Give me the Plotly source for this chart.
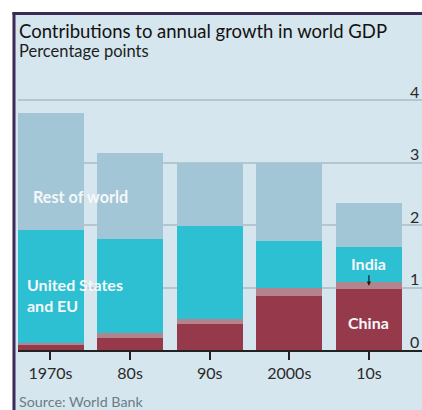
import plotly.graph_objects as go

# ---- data ----
decades = ["1970s", "80s", "90s", "2000s", "10s"]
china = [0.08, 0.20, 0.42, 0.86, 0.97]
india = [0.03, 0.07, 0.08, 0.13, 0.12]
us_eu = [1.81, 1.51, 1.49, 0.75, 0.56]
rest_of_world = [1.87, 1.38, 1.00, 1.25, 0.71]
y_ticks = [0, 1, 2, 3, 4]

# ---- layout geometry (pixels) ----
W, H = 422, 410
ML, MR, MT, MB = 18, 0, 99, 60
PW = W - ML - MR
PH = H - MT - MB
Y0 = H - MB


def px(x):
    return (x - ML) / PW


def py(y):
    return (Y0 - y) / PH


FONT = "Lato"
BG = "#d5e6ee"
C_CHINA = "#963a4b"
C_INDIA = "#b2848d"
C_USEU = "#2dbfd2"
C_REST = "#a3c6d7"

fig = go.Figure()
for name, vals, col in [
    ("China", china, C_CHINA),
    ("India", india, C_INDIA),
    ("United States and EU", us_eu, C_USEU),
    ("Rest of world", rest_of_world, C_REST),
]:
    fig.add_trace(go.Bar(x=decades, y=vals, name=name, marker=dict(color=col, line=dict(width=0)),
                         hoverinfo="skip"))

shapes = [
    # white outside frame
    dict(type="rect", xref="paper", yref="paper", x0=px(-5), x1=px(12.5), y0=py(-5), y1=py(H + 5),
         fillcolor="white", line=dict(width=0), layer="above"),
    dict(type="rect", xref="paper", yref="paper", x0=px(-5), x1=px(W + 5), y0=py(-5), y1=py(12),
         fillcolor="white", line=dict(width=0), layer="above"),
    # purple frame lines
    dict(type="rect", xref="paper", yref="paper", x0=px(12.5), x1=px(15.5), y0=py(12), y1=py(H + 5),
         fillcolor="#3d2b57", line=dict(width=0), layer="above"),
    dict(type="rect", xref="paper", yref="paper", x0=px(12.5), x1=px(W + 5), y0=py(12), y1=py(15),
         fillcolor="#3d2b57", line=dict(width=0), layer="above"),
]

annotations = [
    dict(text="Contributions to annual growth in world GDP", xref="paper", yref="paper",
         x=px(17), y=py(31), xanchor="left", yanchor="middle", showarrow=False,
         font=dict(family=FONT, size=18.5, color="#121212")),
    dict(text="Percentage points", xref="paper", yref="paper",
         x=px(17), y=py(51), xanchor="left", yanchor="middle", showarrow=False,
         font=dict(family=FONT, size=16.5, color="#1e1e1e")),
    dict(text="Source: World Bank", xref="paper", yref="paper",
         x=px(17), y=py(401), xanchor="left", yanchor="middle", showarrow=False,
         font=dict(family=FONT, size=14.3, color="#6d7c86")),
    dict(text="<b>Rest of world</b>", xref="paper", yref="paper",
         x=px(31), y=py(196), xanchor="left", yanchor="middle", showarrow=False,
         font=dict(family=FONT, size=16.2, color="#f4f8fa")),
    dict(text="<b>United States<br>and EU</b>", xref="paper", yref="paper",
         x=px(25), y=py(295), xanchor="left", yanchor="middle", align="left", showarrow=False,
         font=dict(family=FONT, size=16, color="#f4f8fa")),
    dict(text="<b>India</b>", xref="x", yref="paper",
         x=decades[4], y=py(263), xanchor="center", yanchor="middle", showarrow=False,
         font=dict(family=FONT, size=16, color="#f4f8fa")),
    dict(text="<b>China</b>", xref="x", yref="paper",
         x=decades[4], y=py(322), xanchor="center", yanchor="middle", showarrow=False,
         font=dict(family=FONT, size=16, color="#f4f8fa")),
    # India pointer
    dict(text="", xref="x", yref="y", x=decades[4], y=china[4] + india[4] / 2,
         ax=0, ay=-12, showarrow=True, arrowhead=2, arrowsize=0.7, arrowwidth=1.2,
         arrowcolor="#1a1a1a"),
]
for t in y_ticks:
    annotations.append(dict(text=str(t), xref="paper", yref="y", x=px(421), y=t, yshift=9,
                            xanchor="right", yanchor="middle", showarrow=False,
                            font=dict(family=FONT, size=16, color="#2a2a2a")))

fig.update_layout(
    width=W, height=H,
    margin=dict(l=ML, r=MR, t=MT, b=MB, pad=0),
    paper_bgcolor=BG, plot_bgcolor=BG,
    barmode="stack", bargap=0.17,
    showlegend=False,
    font=dict(family=FONT, color="#2a2a2a"),
    xaxis=dict(range=[-0.408, 4.667], showgrid=False, showline=True, linecolor="#222222", linewidth=2,
               ticks="outside", ticklen=8, tickwidth=1.5, tickcolor="#222222",
               tickfont=dict(family=FONT, size=16, color="#2a2a2a"), fixedrange=True),
    yaxis=dict(range=[0, 4.02], tickvals=y_ticks, showticklabels=False, showgrid=True,
               gridcolor="#b4c7d0", gridwidth=1.5, zeroline=False, fixedrange=True),
    shapes=shapes,
    annotations=annotations,
)

fig.write_html("out.html", config={"displayModeBar": False})
